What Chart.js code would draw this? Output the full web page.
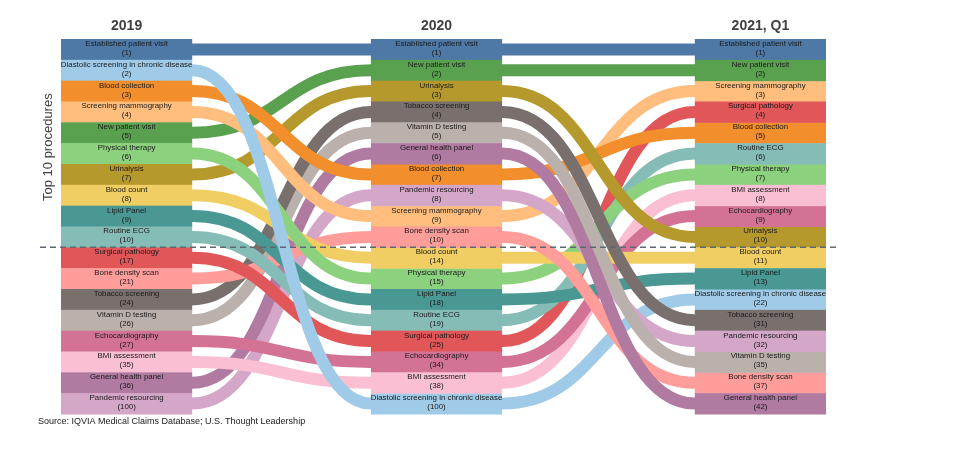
<!DOCTYPE html>
<html>
<head>
<meta charset="utf-8">
<script src="https://cdn.jsdelivr.net/npm/chart.js@4/dist/chart.umd.min.js"></script>
<style>
  body { margin: 0; background: #fff; }
  #wrap { width: 960px; height: 460px; }
</style>
</head>
<body>
<div id="wrap"><canvas id="chart"></canvas></div>
<script>
// 列（期間）
const years = ["2019", "2020", "2021, Q1"];

// 手技名（2019年の並び順）
const procedures = [
  "Established patient visit",
  "Diastolic screening in chronic disease",
  "Blood collection",
  "Screening mammography",
  "New patient visit",
  "Physical therapy",
  "Urinalysis",
  "Blood count",
  "Lipid Panel",
  "Routine ECG",
  "Surgical pathology",
  "Bone density scan",
  "Tobacco screening",
  "Vitamin D testing",
  "Echocardiography",
  "BMI assessment",
  "General health panel",
  "Pandemic resourcing",
];

// 各期間の順位
const rank2019 = [1, 2, 3, 4, 5, 6, 7, 8, 9, 10, 17, 21, 24, 26, 27, 35, 36, 100];
const rank2020 = [1, 100, 7, 9, 2, 15, 3, 14, 18, 19, 25, 10, 4, 5, 34, 38, 6, 8];
const rank2021 = [1, 22, 5, 3, 2, 7, 10, 11, 13, 6, 4, 37, 31, 35, 9, 8, 42, 32];

const topN = 10;
const sourceText = "Source: IQVIA Medical Claims Database; U.S. Thought Leadership";
const yTitle = "Top 10 procedures";

// 手技の色
const procColors = [
  "#4e79a7", "#a0cbe8", "#f28e2b", "#ffbe7d", "#59a14f", "#8cd17d",
  "#b6992d", "#f1ce63", "#499894", "#86bcb6", "#e15759", "#ff9d9a",
  "#79706e", "#bab0ac", "#d37295", "#fabfd2", "#b07aa1", "#d4a6c8",
];

// 列の横位置（レイアウト用）
const colPos = [0, 0.978, 2];
const boxHalf = 0.207; // 箱の半幅（x単位）

// 順位 → 列内の位置（1..18）
function toSlots(ranks) {
  const order = ranks.map((r, i) => i).sort((a, b) => ranks[a] - ranks[b]);
  const slots = [];
  order.forEach((idx, pos) => { slots[idx] = pos + 1; });
  return slots;
}

const allRanks = [rank2019, rank2020, rank2021];
const allSlots = allRanks.map(toSlots);

const datasets = procedures.map((name, i) => ({
  label: name,
  data: allSlots.map((slots, c) => ({ x: colPos[c], y: slots[i] })),
  showLine: false,
  pointRadius: 0,
  borderColor: procColors[i],
  backgroundColor: procColors[i],
}));

const FONT = "'Liberation Sans', Arial, sans-serif";

const rankPlugin = {
  id: "rankPlugin",
  beforeDatasetsDraw(chart) {
    const ctx = chart.ctx;
    const xs = chart.scales.x;
    const halfPx = xs.getPixelForValue(boxHalf) - xs.getPixelForValue(0);
    ctx.save();
    ctx.lineWidth = 12;
    ctx.lineCap = "butt";
    for (let s = 0; s < years.length - 1; s++) {
      // 下の段から描いて上位を上に重ねる
      const order = procedures.map((p, i) => i)
        .sort((a, b) => allSlots[s][b] - allSlots[s][a]);
      order.forEach((i) => {
        const meta = chart.getDatasetMeta(i);
        const p0 = meta.data[s];
        const p1 = meta.data[s + 1];
        const x1 = p0.x + halfPx;
        const x2 = p1.x - halfPx;
        const mid = (x1 + x2) / 2;
        ctx.strokeStyle = procColors[i];
        ctx.beginPath();
        ctx.moveTo(p0.x, p0.y);
        ctx.lineTo(x1, p0.y);
        ctx.bezierCurveTo(mid, p0.y, mid, p1.y, x2, p1.y);
        ctx.lineTo(p1.x, p1.y);
        ctx.stroke();
      });
    }
    ctx.restore();
  },
  afterDatasetsDraw(chart) {
    const ctx = chart.ctx;
    const xs = chart.scales.x;
    const ys = chart.scales.y;
    const area = chart.chartArea;
    ctx.save();

    // 箱とラベル
    procedures.forEach((name, i) => {
      const meta = chart.getDatasetMeta(i);
      meta.data.forEach((pt, c) => {
        const left = xs.getPixelForValue(colPos[c] - boxHalf);
        const right = xs.getPixelForValue(colPos[c] + boxHalf);
        const top = ys.getPixelForValue(allSlots[c][i] - 0.5);
        const bottom = ys.getPixelForValue(allSlots[c][i] + 0.5);
        ctx.fillStyle = procColors[i];
        ctx.fillRect(left, top, right - left, bottom - top + 0.5);
        ctx.fillStyle = "#1a1a1a";
        ctx.font = "7.9px " + FONT;
        ctx.textAlign = "center";
        ctx.textBaseline = "middle";
        ctx.fillText(name, pt.x, pt.y - 5.6);
        ctx.fillText("(" + allRanks[c][i] + ")", pt.x, pt.y + 3.4);
      });
    });

    // 列見出し
    ctx.fillStyle = "#404040";
    ctx.font = "bold 14px " + FONT;
    ctx.textAlign = "center";
    ctx.textBaseline = "middle";
    years.forEach((y, c) => {
      ctx.fillText(y, xs.getPixelForValue(colPos[c]), 26);
    });

    // 縦軸タイトル
    ctx.save();
    ctx.translate(48, (ys.getPixelForValue(0.5) + ys.getPixelForValue(topN + 0.5)) / 2 + 4);
    ctx.rotate(-Math.PI / 2);
    ctx.font = "13px " + FONT;
    ctx.fillText(yTitle, 0, 0);
    ctx.restore();

    // 上位10の区切り線
    const yl = ys.getPixelForValue(topN + 0.5);
    ctx.strokeStyle = "#5f6770";
    ctx.lineWidth = 1.5;
    ctx.setLineDash([6, 4]);
    ctx.beginPath();
    ctx.moveTo(40, yl);
    ctx.lineTo(836, yl);
    ctx.stroke();
    ctx.setLineDash([]);

    // 出典
    ctx.fillStyle = "#1a1a1a";
    ctx.font = "9px " + FONT;
    ctx.textAlign = "left";
    ctx.fillText(sourceText, 38, area.bottom + 8);

    ctx.restore();
  },
};

new Chart(document.getElementById("chart"), {
  type: "line",
  data: { datasets: datasets },
  options: {
    responsive: true,
    maintainAspectRatio: false,
    animation: false,
    layout: { padding: { left: 61, right: 134, top: 39, bottom: 46 } },
    plugins: { legend: { display: false }, tooltip: { enabled: false } },
    scales: {
      x: { type: "linear", min: -boxHalf, max: 2 + boxHalf, display: false },
      y: { type: "linear", min: 0.5, max: procedures.length + 0.5, reverse: true, display: false },
    },
  },
  plugins: [rankPlugin],
});
</script>
</body>
</html>
